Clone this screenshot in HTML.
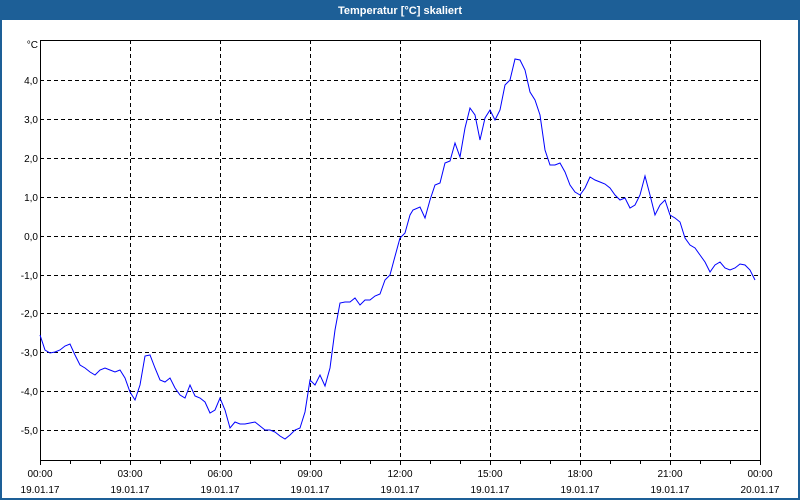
<!DOCTYPE html>
<html><head><style>
html,body{margin:0;padding:0;background:#fff;}
svg{display:block;font-family:"Liberation Sans","DejaVu Sans",sans-serif;}
</style></head><body>
<svg width="800" height="500" xmlns="http://www.w3.org/2000/svg">
<rect x="0" y="0" width="800" height="500" fill="#1d5f97"/>
<rect x="2" y="20" width="796" height="478" fill="#fff"/>
<text x="400" y="14" fill="#fff" font-size="11" font-weight="bold" text-anchor="middle">Temperatur [°C] skaliert</text>
<g stroke="#000" stroke-width="1" stroke-dasharray="4,3" fill="none">
<path d="M130.5 40V460M220.5 40V460M310.5 40V460M400.5 40V460M490.5 40V460M580.5 40V460M670.5 40V460"/>
<path d="M40 80.5H760M40 119.5H760M40 158.5H760M40 197.5H760M40 236.5H760M40 275.5H760M40 313.5H760M40 352.5H760M40 391.5H760M40 430.5H760"/>
</g>
<g stroke="#000" stroke-width="1" fill="none">
<path d="M40.5 40V460.5H760.5V40M40 40.5H760"/>
<path d="M40.5 460V465M70.5 460V464M100.5 460V464M130.5 460V465M160.5 460V464M190.5 460V464M220.5 460V465M250.5 460V464M280.5 460V464M310.5 460V465M340.5 460V464M370.5 460V464M400.5 460V465M430.5 460V464M460.5 460V464M490.5 460V465M520.5 460V464M550.5 460V464M580.5 460V465M610.5 460V464M640.5 460V464M670.5 460V465M700.5 460V464M730.5 460V464M760.5 460V465"/>
</g>
<g font-size="10" fill="#000" text-anchor="end">
<text x="38" y="48">°C</text>
<text x="38" y="84">4,0</text><text x="38" y="123">3,0</text><text x="38" y="162">2,0</text>
<text x="38" y="201">1,0</text><text x="38" y="240">0,0</text><text x="38" y="279">-1,0</text>
<text x="38" y="317">-2,0</text><text x="38" y="356">-3,0</text><text x="38" y="395">-4,0</text>
<text x="38" y="434">-5,0</text>
</g>
<g font-size="10" fill="#000" text-anchor="middle">
<text x="40" y="477">00:00</text><text x="40" y="493">19.01.17</text>
<text x="130" y="477">03:00</text><text x="130" y="493">19.01.17</text>
<text x="220" y="477">06:00</text><text x="220" y="493">19.01.17</text>
<text x="310" y="477">09:00</text><text x="310" y="493">19.01.17</text>
<text x="400" y="477">12:00</text><text x="400" y="493">19.01.17</text>
<text x="490" y="477">15:00</text><text x="490" y="493">19.01.17</text>
<text x="580" y="477">18:00</text><text x="580" y="493">19.01.17</text>
<text x="670" y="477">21:00</text><text x="670" y="493">19.01.17</text>
<text x="760" y="477">00:00</text><text x="760" y="493">20.01.17</text>
</g>
<polyline fill="none" stroke="#0000ff" stroke-width="1" points="40,335 45,350 50,353 55,352 60,350 65,346 70,344 75,355 80,365 85,368 90,372 95,375 100,370 105,368 110,370 115,372 120,370 125,378 130,392 135,400 140,385 145,356 150,355 155,368 160,380 165,382 170,378 175,388 180,395 185,398 190,385 195,396 200,398 205,402 210,413 215,410 220,398 225,410 230,428 235,422 240,424 245,424 250,423 255,422 260,426 265,430 270,430 275,432 280,436 285,439 290,435 295,430 300,428 305,412 310,380 315,385 320,375 325,386 330,368 335,330 340,303 345,302 350,302 355,298 360,305 365,300 370,300 375,296 380,294 385,280 390,275 394,260 400,238 405,233 410,215 413,210 420,207 425,218 430,200 435,185 440,183 445,163 450,161 455,143 460,157 465,128 470,108 475,115 480,140 485,118 490,110 495,120 500,110 505,85 510,80 515,59 520,60 525,70 530,92 535,100 540,115 545,150 550,165 555,165 560,163 565,172 570,185 575,192 580,195 585,188 590,177 595,180 600,182 605,184 610,188 615,195 620,200 625,198 630,208 635,205 640,195 645,176 650,195 655,215 660,205 665,200 670,215 675,218 680,222 685,238 690,245 695,248 700,255 705,262 710,272 715,265 720,262 725,268 730,270 735,268 740,264 745,265 750,270 755,280"/>
</svg>
</body></html>
